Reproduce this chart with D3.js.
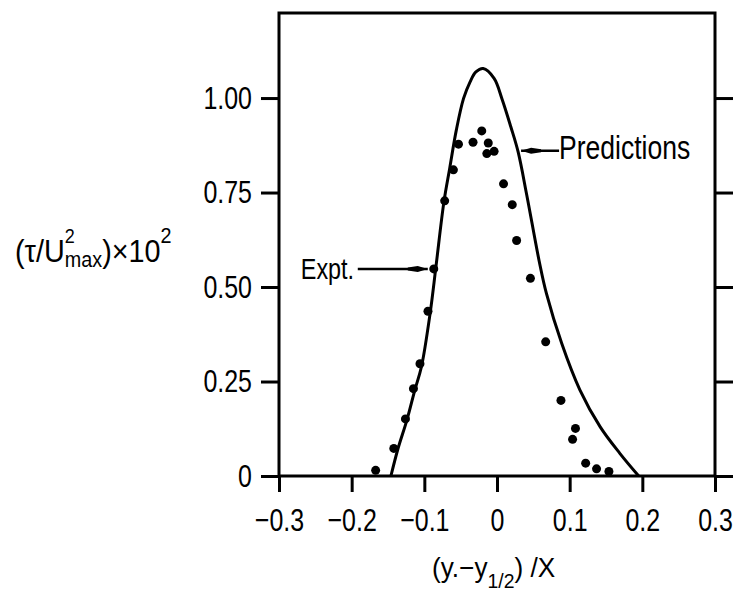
<!DOCTYPE html>
<html>
<head>
<meta charset="utf-8">
<script src="https://cdn.jsdelivr.net/npm/d3@7/dist/d3.min.js"></script>
<style>
  body { margin: 0; background: #fff; }
  text { font-family: "Liberation Sans", Arial, sans-serif; fill: #000; }
</style>
</head>
<body>
<svg id="chart" width="733" height="591"></svg>
<script>
// Axis ticks and their printed labels
const xTicks = [-0.3, -0.2, -0.1, 0, 0.1, 0.2, 0.3];
const xTickLabels = ["\u22120.3", "\u22120.2", "\u22120.1", "0", "0.1", "0.2", "0.3"];
const yTicks = [0, 0.25, 0.5, 0.75, 1.0];
const yTickLabels = ["0", "0.25", "0.50", "0.75", "1.00"];

// Experimental shear stress (dots)
const exptX = [-0.167, -0.142, -0.126, -0.115, -0.106, -0.095, -0.087, -0.072, -0.060, -0.053,
               -0.033, -0.021, -0.012, -0.014, -0.004, 0.009, 0.021, 0.027, 0.046, 0.067,
               0.088, 0.108, 0.104, 0.122, 0.137, 0.154];
const exptY = [0.015, 0.073, 0.151, 0.231, 0.297, 0.436, 0.548, 0.728, 0.810, 0.878,
               0.883, 0.913, 0.881, 0.853, 0.859, 0.773, 0.718, 0.623, 0.523, 0.355,
               0.200, 0.126, 0.097, 0.034, 0.019, 0.012];

// Predicted profile (solid line)
const predX = [-0.146, -0.136, -0.124, -0.113, -0.104, -0.092, -0.084, -0.073, -0.065, -0.056,
               -0.046, -0.037, -0.029, -0.019, -0.004, 0.007, 0.019, 0.029, 0.041, 0.058,
               0.068, 0.089, 0.114, 0.142, 0.169, 0.195];
const predY = [0.0, 0.074, 0.148, 0.228, 0.289, 0.431, 0.554, 0.726, 0.815, 0.915,
               0.999, 1.043, 1.069, 1.078, 1.052, 0.997, 0.924, 0.858, 0.743, 0.569,
               0.483, 0.351, 0.228, 0.130, 0.060, 0.0];

const svg = d3.select("#chart");
const x = d3.scaleLinear().domain([-0.3, 0.3]).range([279, 715]);
const y = d3.scaleLinear().domain([0, 1.225]).range([476, 13]);

const SW = 3;       // line weight of frame, ticks and curve
const SQ = 0.78;    // horizontal squeeze giving the narrow lettering

// Turn x/y placement into a transform so glyphs can be narrowed in place
function squeeze(sel, k = SQ) {
  sel.each(function () {
    const t = d3.select(this);
    const tx = +t.attr("x") || 0, ty = +t.attr("y") || 0;
    t.attr("x", 0).attr("y", 0)
      .attr("transform", `translate(${tx},${ty}) scale(${k},1)`);
  });
}

// Frame
svg.append("rect")
  .attr("x", x(-0.3)).attr("y", y(1.225))
  .attr("width", x(0.3) - x(-0.3)).attr("height", y(0) - y(1.225))
  .attr("fill", "none").attr("stroke", "#000").attr("stroke-width", SW);

function styleAxis(g) {
  g.select(".domain").remove();
  g.selectAll(".tick line").attr("stroke", "#000").attr("stroke-width", SW);
  g.selectAll(".tick text").attr("fill", "#000");
}

// Left axis with labels
svg.append("g")
  .attr("transform", `translate(${x(-0.3)},0)`)
  .call(d3.axisLeft(y).tickValues(yTicks).tickFormat((d, i) => yTickLabels[i]).tickSize(18).tickPadding(9))
  .call(styleAxis)
  .call(g => g.selectAll(".tick text").attr("font-size", 32).call(squeeze));

// Right axis, ticks only
svg.append("g")
  .attr("transform", `translate(${x(0.3)},0)`)
  .call(d3.axisRight(y).tickValues(yTicks).tickFormat("").tickSize(18))
  .call(styleAxis);

// Bottom axis
svg.append("g")
  .attr("transform", `translate(0,${y(0)})`)
  .call(d3.axisBottom(x).tickValues(xTicks).tickFormat((d, i) => xTickLabels[i]).tickSize(16).tickPadding(16))
  .call(styleAxis)
  .call(g => g.selectAll(".tick text").attr("font-size", 32).call(squeeze));

// One text element with tspans laid out left to right; an array entry stacks
// a superscript over a subscript at the same position
function richText(x0, baseline, k, parts) {
  const t = svg.append("text")
    .attr("transform", `translate(${x0},${baseline}) scale(${k},1)`);
  let cx = 0;
  parts.forEach(p => {
    const items = Array.isArray(p) ? p : [p];
    let w = 0;
    items.forEach(it => {
      const s = t.append("tspan")
        .attr("x", cx).attr("y", it.dy || 0)
        .attr("font-size", it.size)
        .text(it.t);
      w = Math.max(w, s.node().getComputedTextLength());
    });
    cx += w;
  });
  return t;
}

// Y axis title
richText(15, 262, 0.9, [
  { t: "(\u03C4/U", size: 32 },
  [{ t: "2", size: 20, dy: -19 }, { t: "max", size: 22, dy: 5 }],
  { t: ")\u00D710", size: 32 },
  { t: "2", size: 22, dy: -19 }
]);

// X axis title
richText(432, 577, 0.97, [
  { t: "(y.\u2212y", size: 27 },
  { t: "1/2", size: 20, dy: 11 },
  { t: ") /X", size: 27 }
]);

// Prediction curve
const line = d3.line()
  .x((d, i) => x(predX[i]))
  .y((d, i) => y(predY[i]))
  .curve(d3.curveCatmullRom.alpha(0.5));
svg.append("path")
  .datum(predX)
  .attr("d", line)
  .attr("fill", "none")
  .attr("stroke", "#000")
  .attr("stroke-width", SW);

// Experimental points
svg.append("g").selectAll("circle")
  .data(exptX)
  .join("circle")
  .attr("cx", (d, i) => x(exptX[i]))
  .attr("cy", (d, i) => y(exptY[i]))
  .attr("r", 4.5)
  .attr("fill", "#000");

// Annotation: Expt. arrow pointing to a measured point
{
  const ax = x(exptX[6]) - 6, ay = y(exptY[6]);
  svg.append("line").attr("x1", ax - 70).attr("x2", ax).attr("y1", ay).attr("y2", ay)
    .attr("stroke", "#000").attr("stroke-width", 2.5);
  svg.append("path")
    .attr("d", `M${ax},${ay} L${ax - 10},${ay - 3} L${ax - 20},${ay - 1.5} L${ax - 20},${ay + 1.5} L${ax - 10},${ay + 3} Z`)
    .attr("fill", "#000");
  svg.append("text").attr("x", ax - 127).attr("y", ay + 10).attr("font-size", 30).text("Expt.").call(squeeze);
}

// Annotation: Predictions arrow pointing to the curve
{
  const ax = x(predX[17]) + 3, ay = y(predY[17]) - 1;
  svg.append("line").attr("x1", ax).attr("x2", ax + 38).attr("y1", ay).attr("y2", ay)
    .attr("stroke", "#000").attr("stroke-width", 2.5);
  svg.append("path")
    .attr("d", `M${ax},${ay} L${ax + 10},${ay - 3} L${ax + 20},${ay - 1.5} L${ax + 20},${ay + 1.5} L${ax + 10},${ay + 3} Z`)
    .attr("fill", "#000");
  svg.append("text").attr("x", ax + 38).attr("y", ay + 8).attr("font-size", 34).text("Predictions").call(squeeze);
}
</script>
</body>
</html>
